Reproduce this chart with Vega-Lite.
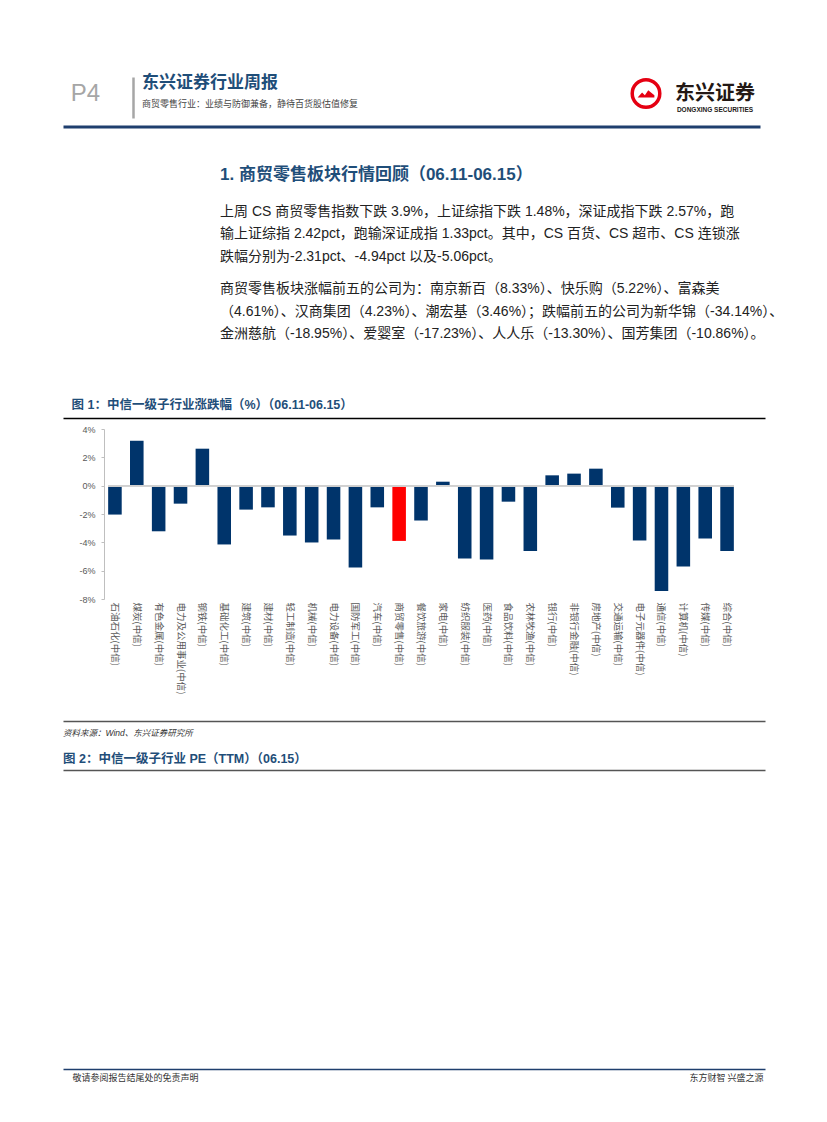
{
  "$schema": "https://vega.github.io/schema/vega-lite/v6.json",
  "background": "white",
  "padding": {"left": 63, "top": 72, "right": 0, "bottom": 0},
  "columns": 1,
  "align": "none",
  "spacing": 0,
  "config": {
    "view": {"stroke": null},
    "axis": {"minExtent": 0},
    "font": "Liberation Sans, Noto Sans CJK SC",
    "title": {"font": "Liberation Sans, Noto Sans CJK SC", "subtitleFont": "Liberation Sans, Noto Sans CJK SC"}
  },
  "concat": [
    {
      "width": 697, "height": 41,
      "data": {"values": [{"t": "P4", "v": 1, "cn": "东兴证券", "en": "DONGXING SECURITIES"}]},
      "encoding": {
        "x": {"field": "v", "type": "quantitative", "scale": {"domain": [0, 2]}, "axis": null},
        "y": {"field": "v", "type": "quantitative", "scale": {"domain": [0, 2]},
          "axis": {"orient": "left", "offset": -70, "domainColor": "#a6a6a6", "domainWidth": 2.5, "ticks": false, "labels": false, "title": null, "grid": false}}
      },
      "layer": [
        {"mark": {"type": "text", "align": "right", "fontSize": 24, "color": "#a6a6a6", "font": "Liberation Sans", "dx": -311.5, "dy": -4}, "encoding": {"text": {"field": "t"}}},
        {"mark": {"type": "point", "shape": "circle", "size": 760, "filled": true, "fill": "white", "stroke": "#e50012", "strokeWidth": 3.5, "opacity": 1, "xOffset": 234.5, "yOffset": -4}},
        {"mark": {"type": "point", "shape": "M-0.75,0.35 L-0.35,-0.1 L-0.1,0.15 L0.2,-0.3 L0.75,0.15 L0.75,0.35 Z", "size": 500, "filled": true, "color": "#e50012", "opacity": 1, "xOffset": 234.5, "yOffset": -4}},
        {"mark": {"type": "text", "fontSize": 20, "fontWeight": "bold", "font": "Noto Sans CJK SC", "color": "#231815", "dx": 303.5, "dy": -4}, "encoding": {"text": {"field": "cn"}}},
        {"mark": {"type": "text", "fontSize": 6.5, "fontWeight": "bold", "font": "Liberation Sans", "color": "#231815", "dx": 303.5, "dy": 12}, "encoding": {"text": {"field": "en"}}}
      ],
      "title": {
        "text": "东兴证券行业周报",
        "subtitle": "商贸零售行业：业绩与防御兼备，静待百货股估值修复",
        "orient": "top", "anchor": "start", "frame": "group", "dx": 79, "offset": -37,
        "fontSize": 17, "fontWeight": "bold", "color": "#1f4e79",
        "subtitleFontSize": 9, "subtitleColor": "#444444", "subtitlePadding": 8
      }
    },
    {
      "width": 697, "height": 48.5,
      "data": {"values": [{"a": 0.5}]},
      "mark": {"type": "point", "opacity": 0, "size": 0},
      "encoding": {
        "x": {"field": "a", "type": "quantitative", "scale": {"domain": [0, 1]},
          "axis": {"orient": "top", "offset": -8.5, "domainColor": "#1f3f6e", "domainWidth": 3, "ticks": false, "labels": false, "title": null, "grid": false}},
        "y": {"field": "a", "type": "quantitative", "scale": {"domain": [0, 1]}, "axis": null}
      },
      "title": {
        "text": "1. 商贸零售板块行情回顾（06.11-06.15）",
        "subtitle": [
          "上周 CS 商贸零售指数下跌 3.9%，上证综指下跌 1.48%，深证成指下跌 2.57%，跑",
          "输上证综指 2.42pct，跑输深证成指 1.33pct。其中，CS 百货、CS 超市、CS 连锁涨",
          "跌幅分别为-2.31pct、-4.94pct 以及-5.06pct。"
        ],
        "orient": "bottom", "anchor": "start", "frame": "group", "dx": 157, "offset": 0,
        "fontSize": 17, "fontWeight": "bold", "color": "#1f4e79",
        "subtitleFontSize": 14, "subtitleFontWeight": "normal", "subtitleColor": "#222222", "subtitleLineHeight": 22.5, "subtitlePadding": 21
      }
    },
    {
      "width": 697, "height": 18,
      "data": {"values": [{"a": 0.5}]},
      "mark": {"type": "point", "opacity": 0, "size": 0},
      "encoding": {
        "x": {"field": "a", "type": "quantitative", "scale": {"domain": [0, 1]}, "axis": null},
        "y": {"field": "a", "type": "quantitative", "scale": {"domain": [0, 1]}, "axis": null}
      },
      "title": {
        "text": [
          "商贸零售板块涨幅前五的公司为：南京新百（8.33%）、快乐购（5.22%）、富森美",
          "（4.61%）、汉商集团（4.23%）、潮宏基（3.46%）；跌幅前五的公司为新华锦（-34.14%）、",
          "金洲慈航（-18.95%）、爱婴室（-17.23%）、人人乐（-13.30%）、国芳集团（-10.86%）。"
        ],
        "orient": "bottom", "anchor": "start", "frame": "group", "dx": 157, "offset": 0,
        "fontSize": 14, "fontWeight": "normal", "color": "#222222", "lineHeight": 22.5
      }
    },
    {
      "width": 702, "height": 84,
      "data": {"values": [{"a": 0.5}]},
      "mark": {"type": "point", "opacity": 0, "size": 0},
      "encoding": {
        "x": {"field": "a", "type": "quantitative", "scale": {"domain": [0, 1]},
          "axis": {"orient": "bottom", "offset": -7, "domainColor": "#000000", "domainWidth": 1.5, "ticks": false, "labels": false, "title": null, "grid": false}},
        "y": {"field": "a", "type": "quantitative", "scale": {"domain": [0, 1]}, "axis": null}
      },
      "title": {
        "text": "图 1：中信一级子行业涨跌幅（%）（06.11-06.15）",
        "orient": "bottom", "anchor": "start", "frame": "group", "dx": 8.5, "offset": -26,
        "fontSize": 12.5, "fontWeight": "bold", "color": "#1f4e79"
      }
    },
    {
      "width": 702, "height": 170,
      "data": {"values": [
        {"name": "石油石化(中信)", "value": -2.04},
        {"name": "煤炭(中信)", "value": 3.17},
        {"name": "有色金属(中信)", "value": -3.22},
        {"name": "电力及公用事业(中信)", "value": -1.27},
        {"name": "钢铁(中信)", "value": 2.61},
        {"name": "基础化工(中信)", "value": -4.15},
        {"name": "建筑(中信)", "value": -1.69},
        {"name": "建材(中信)", "value": -1.53},
        {"name": "轻工制造(中信)", "value": -3.52},
        {"name": "机械(中信)", "value": -4.01},
        {"name": "电力设备(中信)", "value": -3.80},
        {"name": "国防军工(中信)", "value": -5.77},
        {"name": "汽车(中信)", "value": -1.53},
        {"name": "商贸零售(中信)", "value": -3.90},
        {"name": "餐饮旅游(中信)", "value": -2.46},
        {"name": "家电(中信)", "value": 0.28},
        {"name": "纺织服装(中信)", "value": -5.14},
        {"name": "医药(中信)", "value": -5.21},
        {"name": "食品饮料(中信)", "value": -1.13},
        {"name": "农林牧渔(中信)", "value": -4.62},
        {"name": "银行(中信)", "value": 0.73},
        {"name": "非银行金融(中信)", "value": 0.85},
        {"name": "房地产(中信)", "value": 1.20},
        {"name": "交通运输(中信)", "value": -1.55},
        {"name": "电子元器件(中信)", "value": -3.87},
        {"name": "通信(中信)", "value": -7.44},
        {"name": "计算机(中信)", "value": -5.70},
        {"name": "传媒(中信)", "value": -3.73},
        {"name": "综合(中信)", "value": -4.62}
      ]},
      "encoding": {
        "x": {"field": "name", "type": "nominal", "sort": null,
          "scale": {"range": [41, 675], "paddingInner": 0.38, "paddingOuter": 0.19},
          "axis": {"title": null, "domain": false, "ticks": false, "labelAngle": 90, "labelAlign": "left", "labelBaseline": "middle",
            "labelFont": "Noto Sans CJK SC", "labelFontSize": 9.5, "labelColor": "#595959",
            "labelPadding": 3, "labelOverlap": false, "labelBound": false, "labelLimit": 0}},
        "y": {"field": "value", "type": "quantitative",
          "scale": {"domain": [-8, 4], "nice": false, "zero": true},
          "axis": {"title": null, "offset": -41, "values": [-8, -6, -4, -2, 0, 2, 4], "labelExpr": "datum.value + '%'",
            "labelFont": "Liberation Sans", "labelFontSize": 9, "labelColor": "#595959", "labelPadding": 6,
            "tickSize": 3, "tickColor": "#bfbfbf", "domainColor": "#bfbfbf", "grid": false}}
      },
      "layer": [
        {
          "mark": {"type": "bar"},
          "encoding": {
            "color": {"condition": {"test": "datum.name === '商贸零售(中信)'", "value": "#ff0000"}, "value": "#00346b"}
          }
        },
        {
          "mark": {"type": "rule", "color": "#d0d0d0", "strokeWidth": 1},
          "encoding": {
            "x": {"datum": "石油石化(中信)", "bandPosition": 0},
            "x2": {"datum": "综合(中信)", "bandPosition": 1},
            "y": {"datum": 0}
          }
        }
      ]
    },
    {
      "width": 702, "height": 75.25,
      "data": {"values": [{"a": 0.5}]},
      "mark": {"type": "point", "opacity": 0, "size": 0},
      "encoding": {
        "x": {"field": "a", "type": "quantitative", "scale": {"domain": [0, 1]},
          "axis": {"orient": "top", "offset": -27, "domainColor": "#555555", "domainWidth": 1.5, "ticks": false, "labels": false, "title": null, "grid": false}},
        "y": {"field": "a", "type": "quantitative", "scale": {"domain": [0, 1]}, "axis": null}
      },
      "title": {
        "text": "\u2002\u2002资料来源：Wind、东兴证券研究所",
        "subtitle": "图 2：中信一级子行业 PE（TTM）（06.15）",
        "orient": "bottom", "anchor": "start", "frame": "group", "dx": 0, "offset": -40.25,
        "fontSize": 8.5, "fontStyle": "italic", "fontWeight": "normal", "color": "#333333",
        "subtitleFontSize": 12.5, "subtitleFontWeight": "bold", "subtitleColor": "#1f4e79", "subtitlePadding": 15.3
      }
    },
    {
      "width": 702, "height": 298,
      "data": {"values": [{"a": 0.5}]},
      "mark": {"type": "point", "opacity": 0, "size": 0},
      "encoding": {
        "x": {"field": "a", "type": "quantitative", "scale": {"domain": [0, 1]},
          "axis": {"orient": "top", "domainColor": "#555555", "domainWidth": 1.5, "ticks": false, "labels": false, "title": null, "grid": false}},
        "y": {"field": "a", "type": "quantitative", "scale": {"domain": [0, 1]}, "axis": null}
      }
    },
    {
      "width": 702, "height": 1,
      "data": {"values": [{"a": 0.5}]},
      "mark": {"type": "point", "opacity": 0, "size": 0},
      "encoding": {
        "x": {"field": "a", "type": "quantitative", "scale": {"domain": [0, 1]},
          "axis": {"orient": "bottom", "domainColor": "#1f3f6e", "domainWidth": 1.5, "ticks": false, "grid": false, "title": null,
            "values": [0, 1],
            "labelExpr": "datum.value == 0 ? '敬请参阅报告结尾处的免责声明' : '东方财智 兴盛之源'",
            "labelAlign": {"condition": {"test": "datum.value == 0", "value": "left"}, "value": "right"},
            "labelOffset": {"condition": {"test": "datum.value == 0", "value": 9}, "value": -2},
            "labelFont": "Noto Sans CJK SC", "labelFontSize": 9, "labelColor": "#333333", "labelPadding": 4,
            "labelOverlap": false, "labelBound": false, "labelFlush": false, "labelLimit": 0}},
        "y": {"field": "a", "type": "quantitative", "scale": {"domain": [0, 1]}, "axis": null}
      }
    }
  ]
}
